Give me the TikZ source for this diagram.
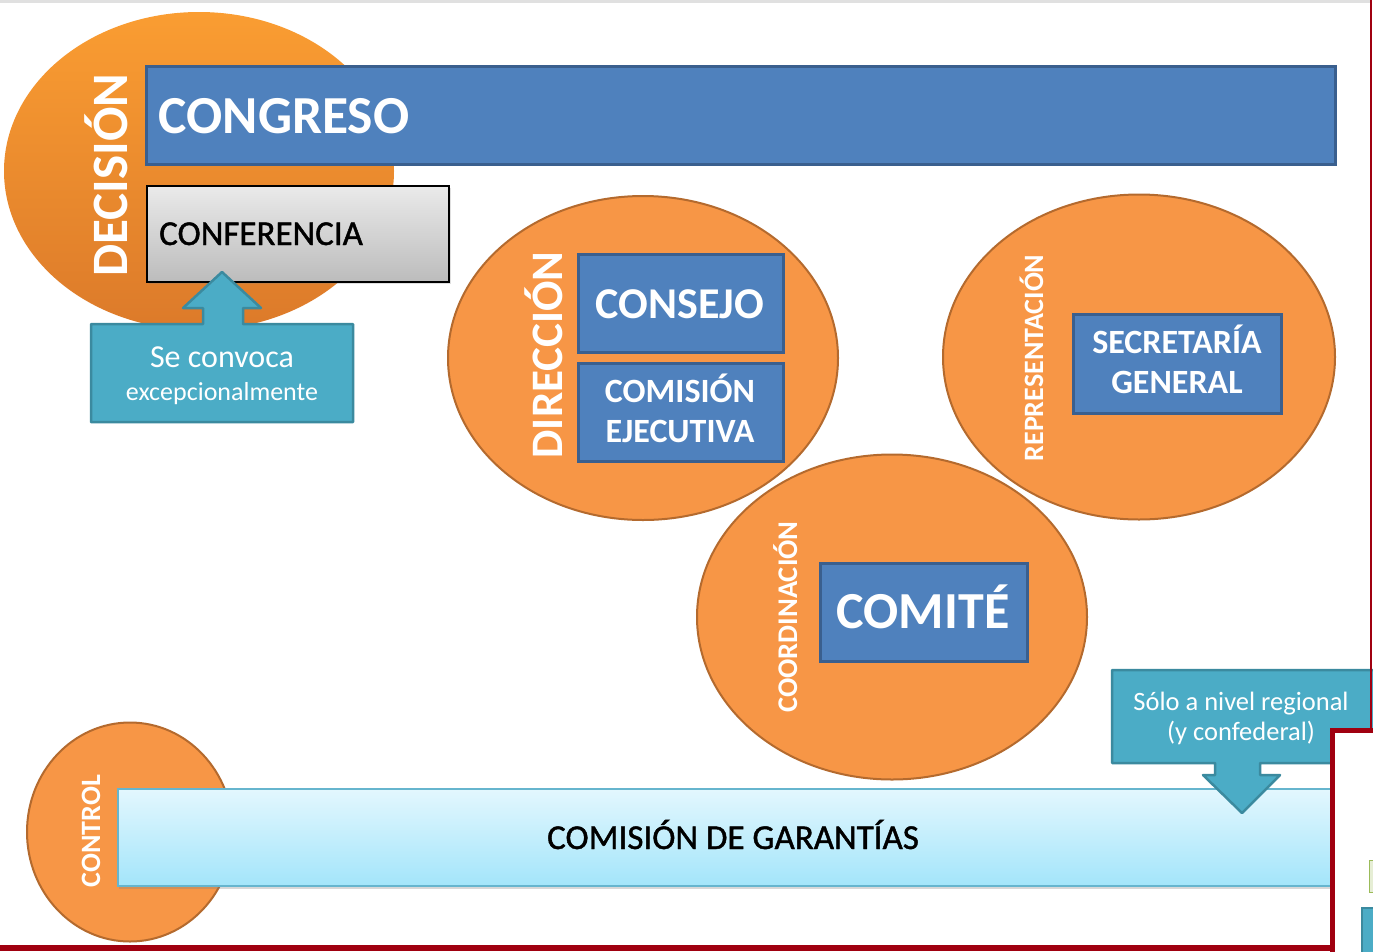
\documentclass[tikz,border=0pt]{standalone}
\usepackage{fontspec}
\setmainfont{Carlito}
\newfontfamily\darkfont[FakeBold=1.2]{Carlito}
\usetikzlibrary{shapes.geometric,shadows}
\definecolor{orgF}{HTML}{F79646}
\definecolor{orgD}{HTML}{B46A2E}
\definecolor{orgTop}{HTML}{FA9D32}
\definecolor{orgBot}{HTML}{DC7A2A}
\definecolor{blueF}{HTML}{4F81BD}
\definecolor{blueD}{HTML}{3A5F8E}
\definecolor{tealF}{HTML}{4BACC6}
\definecolor{tealD}{HTML}{3B8A9F}
\definecolor{cyTop}{HTML}{E3F7FE}
\definecolor{cyBot}{HTML}{A3E5FA}
\definecolor{cyD}{HTML}{66B5CE}
\definecolor{grTop}{HTML}{EAEAEA}
\definecolor{grBot}{HTML}{BCBCBC}
\definecolor{frameRed}{HTML}{A00010}
\definecolor{lightGreen}{HTML}{9BBB59}
\begin{document}
\begin{tikzpicture}[x=1pt,y=-1pt,
  ell/.style={ellipse, inner sep=0pt, fill=orgF, draw=orgD, line width=2pt},
  bbox/.style={rectangle, inner sep=0pt, fill=blueF, draw=blueD, line width=3pt,
    drop shadow={opacity=0.25,shadow xshift=2pt,shadow yshift=-2pt}},
  wlab/.style={text=white, font=\bfseries\fontsize{#1}{#1}\selectfont, inner sep=0pt},
  klab/.style={text=black, font=\darkfont\fontsize{#1}{#1}\selectfont, inner sep=0pt},
  tlab/.style={text=white, font=\fontsize{#1}{#1}\selectfont, inner sep=0pt},
  callout/.style={fill=tealF, draw=tealD, line width=2.5pt, line join=round},
]
\useasboundingbox (0,0) rectangle (1373,951);
\fill[white] (0,0) rectangle (1373,951);
\fill[black!12] (0,0) rectangle (1370,2.5);

% DECISION
\node[ellipse, inner sep=0pt, minimum width=390pt, minimum height=318pt,
      top color=orgTop, bottom color=orgBot, draw=none] (dec) at (199,171) {};
\node[bbox, minimum width=1189pt, minimum height=98pt] (congreso) at (740.5,115) {};
\node[wlab=53.5, anchor=base west] (tcongreso) at (158.5,133) {CONGRESO};
\node[wlab=51, rotate=90, anchor=base] (tdec) at (127,175) {DECISIÓN};
\node[rectangle, inner sep=0pt, minimum width=302pt, minimum height=96pt,
      top color=grTop, bottom color=grBot, draw=black, line width=1.5pt,
      drop shadow={opacity=0.25,shadow xshift=2pt,shadow yshift=-2pt}] (conf) at (298,234) {};
\node[klab=35, anchor=base west] (tconf) at (159,245) {CONFERENCIA};
\draw[callout] (91,324) -- (203,324) -- (203,308) -- (183,308) -- (222,272) -- (261,308)
   -- (243,308) -- (243,324) -- (353,324) -- (353,422) -- (91,422) -- cycle;
\node[tlab=32, anchor=base] (tse) at (222,367) {Se convoca};
\node[tlab=26, anchor=base] (texc) at (222,400) {excepcionalmente};

% DIRECCION
\node[ell, minimum width=390pt, minimum height=324pt] (dir) at (643,358) {};
\node[bbox, minimum width=205pt, minimum height=98pt] (consejo) at (680.5,303) {};
\node[bbox, minimum width=205pt, minimum height=98pt] (comision) at (680.5,412) {};
\node[wlab=44, anchor=base] (tconsejo) at (680,318) {CONSEJO};
\node[wlab=34, anchor=base] (tcomision) at (680,402) {COMISIÓN};
\node[wlab=34, anchor=base] (tejec) at (680,442) {EJECUTIVA};
\node[wlab=45, rotate=90, anchor=base] (tdir) at (562,355) {DIRECCIÓN};

% REPRESENTACION
\node[ell, minimum width=392pt, minimum height=325pt] (rep) at (1139,357) {};
\node[bbox, minimum width=208pt, minimum height=99pt] (secre) at (1177,363.5) {};
\node[wlab=34, anchor=base] (tsec) at (1177,353) {SECRETARÍA};
\node[wlab=34, anchor=base] (tgen) at (1177,393) {GENERAL};
\node[wlab=28, rotate=90, anchor=base] (trep) at (1043,358) {REPRESENTACIÓN};

% COORDINACION
\node[ell, minimum width=390pt, minimum height=325pt] (coo) at (892,617) {};
\node[bbox, minimum width=207pt, minimum height=98pt] (comite) at (923.5,612) {};
\node[wlab=52, anchor=base] (tcomite) at (923,628) {COMITÉ};
\node[wlab=28.5, rotate=90, anchor=base] (tcoo) at (797,617) {COORDINACIÓN};

% CONTROL
\node[ell, minimum width=206pt, minimum height=219pt] (ctl) at (130,832) {};
\node[wlab=28, rotate=90, anchor=base] (tctl) at (100,831) {CONTROL};
\node[rectangle, inner sep=0pt, minimum width=1222pt, minimum height=97pt,
      top color=cyTop, bottom color=cyBot, draw=cyD, line width=1.5pt,
      drop shadow={opacity=0.3,shadow xshift=1pt,shadow yshift=-3pt}] (gar) at (729,837.5) {};
\node[klab=35, anchor=base] (tgar) at (733,849) {COMISIÓN DE GARANTÍAS};

% regional callout
\draw[callout] (1112,670) -- (1385,670) -- (1385,763) -- (1260,763) -- (1260,775) -- (1280,775)
   -- (1242,813) -- (1203,775) -- (1215,775) -- (1215,763) -- (1112,763) -- cycle;
\node[tlab=26.5, anchor=base] (tsolo) at (1241,710) {Sólo a nivel regional};
\node[tlab=26.5, anchor=base] (tyconf) at (1241,740) {(y confederal)};

% frames
\draw[frameRed, line width=2.5pt] (1371,-5) -- (1371,730);
\draw[frameRed, line width=6pt] (-5,948) -- (1332,948);
\filldraw[fill=white, draw=frameRed, line width=5pt] (1332,730) rectangle (1420,1000);
\filldraw[fill=lightGreen!25, draw=lightGreen, line width=1pt] (1369,860) rectangle (1390,892);
\filldraw[fill=tealF, draw=tealD, line width=1.5pt] (1362,908) rectangle (1390,990);
\end{tikzpicture}
\end{document}
